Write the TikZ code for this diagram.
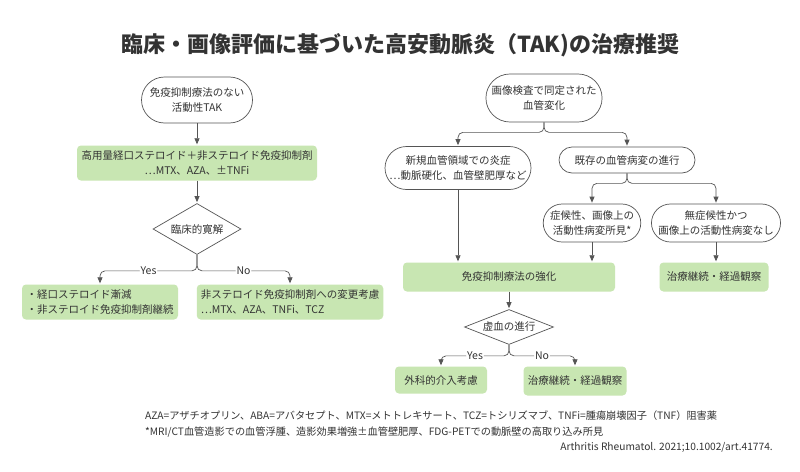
\documentclass[tikz,border=0pt]{standalone}
\usepackage{fontspec}
\setmainfont{Noto Sans CJK JP}
\usetikzlibrary{shapes.geometric,shapes.misc,arrows.meta}
\definecolor{boxgreen}{RGB}{200,230,178}
\definecolor{linegray}{RGB}{85,85,85}
\definecolor{txtgray}{RGB}{51,51,51}
\begin{document}
\begin{tikzpicture}[x=1pt,y=-1pt,shorten >=1pt,font=\fontsize{10.5}{15.5}\selectfont,text=txtgray]
                \tikzstyle{startnode}=[rounded rectangle,draw=linegray,line width=0.7pt,fill=white,align=center,inner sep=2pt]
                \tikzstyle{greenbox}=[rectangle,rounded corners=4pt,fill=boxgreen,align=center,inner sep=4pt]
                \tikzstyle{decision}=[diamond,draw=linegray,line width=0.7pt,fill=white,inner sep=0pt]
                \tikzstyle{conn}=[draw=linegray,line width=0.7pt,-{Triangle[length=6pt,width=5pt]},rounded corners=5pt]
                \tikzstyle{lbl}=[fill=white,inner sep=1pt]
                \tikzstyle{note}=[inner sep=0pt,font=\fontsize{10.2}{12}\selectfont]
                \useasboundingbox (0,0) rectangle (800,471);
                \fill[white] (0,0) rectangle (800,471);
                        \node[font=\fontsize{22}{26}\selectfont\bfseries] (title) at (400,45){臨床・画像評価に基づいた高安動脈炎（TAK)の治療推奨};
                        % left flow
                        \node[startnode,minimum width=115pt,minimum height=46pt] (S-1) at (197,100){免疫抑制療法のない\\活動性TAK};
                        \node[greenbox,minimum width=240pt,minimum height=35pt] (G-1) at (197,163){高用量経口ステロイド＋非ステロイド免疫抑制剤\\⋯MTX、AZA、±TNFi};
                        \node[decision,aspect=1.7,minimum width=88pt,minimum height=51pt] (D-1) at (197,229){臨床的寛解};
                        \node[greenbox,align=left,minimum width=156pt,minimum height=35pt] (G-2) at (100,302){・経口ステロイド漸減\\・非ステロイド免疫抑制剤継続};
                        \node[greenbox,align=left,minimum width=186pt,minimum height=35pt] (G-3) at (290,302){非ステロイド免疫抑制剤への変更考慮\\⋯MTX、AZA、TNFi、TCZ};
                        % right flow
                        \node[startnode,minimum width=116pt,minimum height=48pt] (S-2) at (544,98){画像検査で同定された\\血管変化};
                        \node[startnode,minimum width=150pt,minimum height=43pt] (S-3) at (458,168){新規血管領域での炎症\\⋯動脈硬化、血管壁肥厚など};
                        \node[startnode,minimum width=140pt,minimum height=26pt] (S-4) at (627,160){既存の血管病変の進行};
                        \node[startnode,minimum width=93pt,minimum height=38pt] (S-5) at (592,223){症候性、画像上の\\活動性病変所見*};
                        \node[startnode,minimum width=124pt,minimum height=38pt] (S-6) at (716,223){無症候性かつ\\画像上の活動性病変なし};
                        \node[greenbox,minimum width=212pt,minimum height=29pt] (G-4) at (509,277){免疫抑制療法の強化};
                        \node[greenbox,minimum width=109pt,minimum height=29pt] (G-5) at (714,277){治療継続・経過観察};
                        \node[decision,aspect=2.5,minimum width=89pt,minimum height=35pt] (D-2) at (509,327){虚血の進行};
                        \node[greenbox,minimum width=92pt,minimum height=27pt] (G-6) at (441,380){外科的介入考慮};
                        \node[greenbox,minimum width=103pt,minimum height=29pt] (G-7) at (575,381){治療継続・経過観察};
                        % notes
                        \node[note,anchor=west] (N-1) at (145,416){AZA=アザチオプリン、ABA=アバタセプト、MTX=メトトレキサート、TCZ=トシリズマブ、TNFi=腫瘍崩壊因子（TNF）阻害薬};
                        \node[note,anchor=west] (N-2) at (145,432){*MRI/CT血管造影での血管浮腫、造影効果増強±血管壁肥厚、FDG-PETでの動脈壁の高取り込み所見};
                        \node[note,anchor=east] (N-3) at (773,447){Arthritis Rheumatol. 2021;10.1002/art.41774.};

                    \foreach \from/\to in {S-1/G-1, G-1/D-1, G-4/D-2}
                        \draw[conn] (\from.south) -- (\to.north);
                    \foreach \from/\to in {S-3/G-4, S-5/G-4, S-6/G-5}
                        \draw[conn] (\from.south) -- (\from.south |- \to.north);
                    \foreach \from/\to in {S-2/S-3, S-2/S-4, S-4/S-5, S-4/S-6}
                        \draw[conn] (\from.south) -- ++(0,10) -| (\to.north);
                        \draw[conn] (D-1.south) -- ++(0,16) -| node[lbl,pos=0.25]{Yes} (G-2.north);
                        \draw[conn] (D-1.south) -- ++(0,16) -| node[lbl,pos=0.25]{No} (G-3.north);
                        \draw[conn] (D-2.south) -- ++(0,11) -| node[lbl,pos=0.25]{Yes} (G-6.north);
                        \draw[conn] (D-2.south) -- ++(0,11) -| node[lbl,pos=0.25]{No} (G-7.north);
            \end{tikzpicture}
\end{document}
